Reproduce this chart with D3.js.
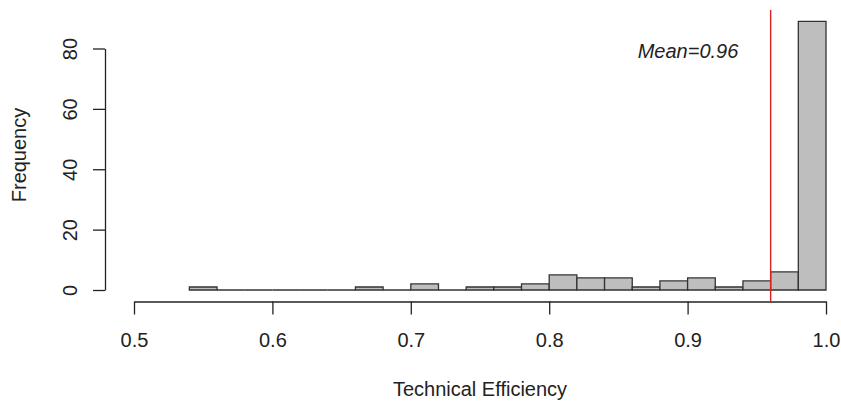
<!DOCTYPE html>
<html lang="en">
<head>
<meta charset="utf-8">
<title>Technical Efficiency histogram</title>
<script src="https://cdnjs.cloudflare.com/ajax/libs/d3/7.8.5/d3.min.js"></script>
<style>
  body { margin: 0; background: #fff; }
  text { font-family: "Liberation Sans", Arial, sans-serif; fill: #222; }
</style>
</head>
<body>
<script>
// histogram bins (width 0.02) and counts
var binStarts = [0.54, 0.56, 0.58, 0.60, 0.62, 0.64, 0.66, 0.68, 0.70, 0.72, 0.74, 0.76,
                 0.78, 0.80, 0.82, 0.84, 0.86, 0.88, 0.90, 0.92, 0.94, 0.96, 0.98];
var counts = [1, 0, 0, 0, 0, 0, 1, 0, 2, 0, 1, 1,
              2, 5, 4, 4, 1, 3, 4, 1, 3, 6, 89];
var binWidth = 0.02;
var xTicks = [0.5, 0.6, 0.7, 0.8, 0.9, 1.0];
var yTicks = [0, 20, 40, 60, 80];
var meanValue = 0.96;

var w = 841, h = 403;

var svg = d3.select("body").append("svg")
  .attr("width", w)
  .attr("height", h);

// scales
var x = d3.scaleLinear().domain([0.5, 1.0]).range([134, 826]);
var y = d3.scaleLinear().domain([0, 80]).range([290, 48.5]);

// bars - drawn as closed paths so empty bins still show as a line at zero
svg.selectAll("path.bar")
  .data(binStarts)
  .enter()
  .append("path")
  .attr("class", "bar")
  .attr("d", function(d, i) {
    var x0 = x(d), x1 = x(d + binWidth);
    return "M" + x0 + "," + y(0) + "V" + y(counts[i]) + "H" + x1 + "V" + y(0) + "Z";
  })
  .style("fill", "#bebebe")
  .style("stroke", "#333")
  .style("stroke-width", 1.3);

// x axis
var xAxis = svg.append("g")
  .attr("transform", "translate(0,301.5)")
  .call(d3.axisBottom(x).tickValues(xTicks).tickFormat(d3.format(".1f")).tickSize(13).tickSizeOuter(0));
xAxis.select(".domain").attr("stroke", "#222").attr("stroke-width", 1.3);
xAxis.selectAll(".tick line").attr("stroke", "#222").attr("stroke-width", 1.3);
xAxis.selectAll("text")
  .attr("y", 45.5).attr("dy", null)
  .attr("font-family", null).attr("font-size", null)
  .style("font-size", "20px").style("fill", "#222");

// y axis
var yAxis = svg.append("g")
  .attr("transform", "translate(105,0)")
  .call(d3.axisLeft(y).tickValues(yTicks).tickSize(12).tickSizeOuter(0));
yAxis.select(".domain").attr("stroke", "#222").attr("stroke-width", 1.3);
yAxis.selectAll(".tick line").attr("stroke", "#222").attr("stroke-width", 1.3);
yAxis.selectAll("text")
  .attr("x", null).attr("dy", null)
  .attr("font-family", null).attr("font-size", null)
  .attr("transform", "translate(-28,0) rotate(-90)")
  .attr("text-anchor", "middle")
  .style("font-size", "20px").style("fill", "#222");

// mean line
svg.append("line")
  .attr("x1", x(meanValue)).attr("x2", x(meanValue))
  .attr("y1", 10).attr("y2", 302)
  .style("stroke", "#dd2222")
  .style("stroke-width", 1.4);

svg.append("text")
  .attr("x", 688)
  .attr("y", 58)
  .attr("text-anchor", "middle")
  .style("font-style", "italic")
  .style("font-size", "20px")
  .text("Mean=" + meanValue);

// axis titles
svg.append("text")
  .attr("x", 480)
  .attr("y", 396)
  .attr("text-anchor", "middle")
  .style("font-size", "20px")
  .text("Technical Efficiency");

svg.append("text")
  .attr("transform", "translate(26,155) rotate(-90)")
  .attr("text-anchor", "middle")
  .style("font-size", "20px")
  .text("Frequency");
</script>
</body>
</html>
